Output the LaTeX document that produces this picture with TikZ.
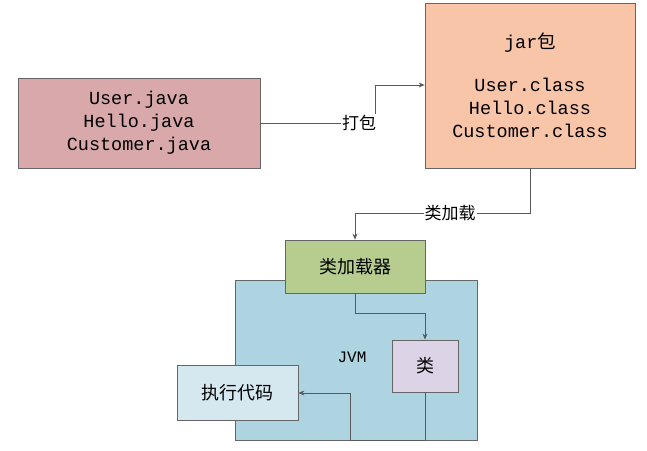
\documentclass[tikz,border=0pt]{standalone}
\usepackage{fontspec}
\setmonofont{Liberation Mono}
\newfontfamily\cjk{Noto Sans CJK SC}
\usetikzlibrary{arrows.meta}
\definecolor{cA}{HTML}{D9A8AB}
\definecolor{cB}{HTML}{F8C5A9}
\definecolor{cG}{HTML}{B6CD8F}
\definecolor{cJ}{HTML}{AFD4E1}
\definecolor{cL}{HTML}{DCD3E6}
\definecolor{cE}{HTML}{D5E8EF}
\begin{document}
\begin{tikzpicture}[x=1pt,y=-1pt,
  box/.style={draw=gray!80!black,line width=0.8pt,inner sep=0pt,align=center,font=\ttfamily\fontsize{18.5}{23}\selectfont},
  lab/.style={fill=white,inner sep=1pt,font=\cjk\fontsize{17}{19}\selectfont},
  con/.style={draw=gray!70!black,line width=0.8pt,-{Stealth[length=6pt,width=5pt]}}]
\useasboundingbox (0,0) rectangle (647,450);
\node[box,fill=cA,minimum width=242pt,minimum height=90pt] (src) at (139,123) {User.java\\Hello.java\\Customer.java};
\node[box,fill=cB,minimum width=210pt,minimum height=165pt] (jar) at (530,85.5) {jar{\cjk 包}\\[20pt]User.class\\Hello.class\\Customer.class};
\node[box,fill=cJ,minimum width=242pt,minimum height=160pt] (jvm) at (356,360) {};
\node[font=\ttfamily\fontsize{16}{18}\selectfont] (jvmt) at (352,357) {JVM};
\node[box,fill=cG,minimum width=140pt,minimum height=53pt,font=\cjk\fontsize{18}{20}\selectfont] (cl) at (355,266.5) {类加载器};
\node[box,fill=cL,minimum width=66pt,minimum height=52pt,font=\cjk\fontsize{18}{20}\selectfont] (cls) at (425,366) {类};
\node[box,fill=cE,minimum width=121pt,minimum height=55pt,font=\cjk\fontsize{18}{20}\selectfont] (exe) at (237.5,392.5) {执行代码};
\coordinate (p1) at (375,123);
\draw[con] (src.east) -- (p1) |- (jar.west |- 0,85);
\node[lab] at (359,123) {打包};
\draw[con] (jar.south) -- (530,213) -| (cl.north);
\node[lab] at (450,213) {类加载};
\draw[con] (cl.south) -- (355,313) -| (cls.north);
\draw[con] (cls.south) -- (425,440) -- (350,440) |- (exe.east |- 0,393);
\end{tikzpicture}
\end{document}
